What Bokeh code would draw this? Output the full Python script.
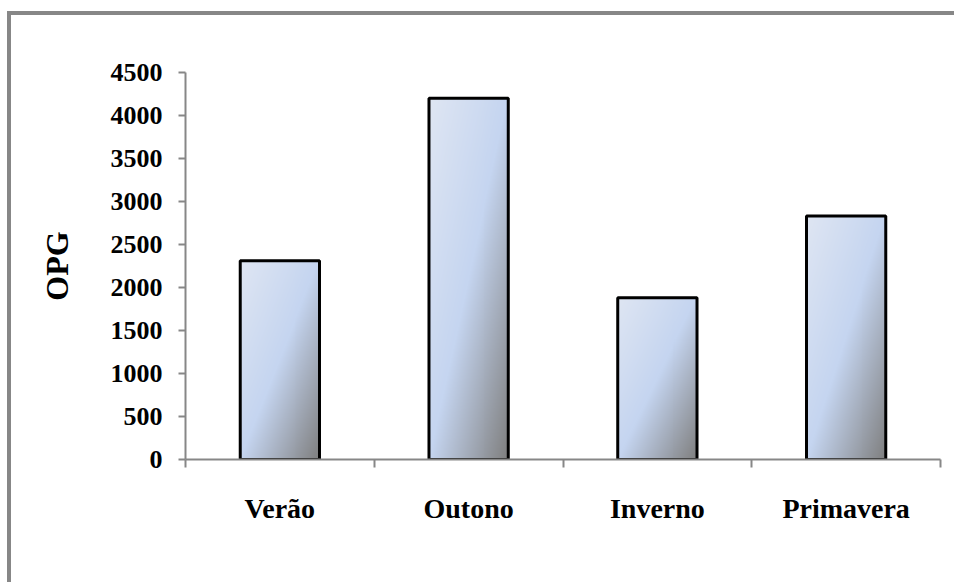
import numpy as np
from bokeh.plotting import figure
from bokeh.models import ColumnDataSource, Range1d, FixedTicker
from bokeh.embed import file_html
from bokeh.resources import INLINE

# Seasonal OPG counts
seasons = ["Verão", "Outono", "Inverno", "Primavera"]
opg = [2310, 4200, 1880, 2830]
y_ticks = [0, 500, 1000, 1500, 2000, 2500, 3000, 3500, 4000, 4500]

BAR_W = 0.42
centers = [i + 0.5 for i in range(len(seasons))]
boundaries = list(range(len(seasons) + 1))

FONT = "Liberation Serif"
AXIS_GREY = "#878787"


def gradient(h=240, w=80):
    """Diagonal fill: pale blue top-left, blue middle, grey bottom-right."""
    stops = np.array([0.0, 0.5, 1.0])
    cols = np.array([[223, 230, 243], [197, 213, 240], [128, 128, 128]], float)
    v = np.linspace(0, 1, h)[:, None]   # row 0 is the bottom of the bar
    u = np.linspace(0, 1, w)[None, :]
    t = (u + (1 - v)) / 2
    rgb = np.stack([np.interp(t, stops, cols[:, k]) for k in range(3)], axis=-1)
    img = np.empty((h, w), dtype=np.uint32)
    view = img.view(dtype=np.uint8).reshape((h, w, 4))
    view[..., 0:3] = rgb.astype(np.uint8)
    view[..., 3] = 255
    return img


grad = gradient()
src = ColumnDataSource(dict(
    image=[grad for _ in seasons],
    x=[c - BAR_W / 2 for c in centers],
    y=[0 for _ in seasons],
    dw=[BAR_W for _ in seasons],
    dh=opg,
))

p = figure(
    width=947, height=571,
    x_range=Range1d(0, len(seasons)), y_range=Range1d(0, 4500),
    output_backend="svg", toolbar_location=None,
    min_border_left=174, min_border_right=18,
    min_border_top=57, min_border_bottom=127,
)
p.styles = {
    "margin-left": "7px", "margin-top": "11px",
    "border-left": "4px solid #878787", "border-top": "4px solid #878787",
}
p.title.visible = False
p.grid.visible = False
p.outline_line_color = None
p.background_fill_color = "white"
p.border_fill_color = "white"

p.image_rgba(image="image", x="x", y="y", dw="dw", dh="dh", source=src)
p.vbar(x=centers, width=BAR_W, top=opg, bottom=0,
       fill_alpha=0, line_color="black", line_width=3)

# y axis
ya = p.yaxis[0]
ya.ticker = FixedTicker(ticks=y_ticks, minor_ticks=[])
ya.axis_line_color = AXIS_GREY
ya.axis_line_width = 2
ya.major_tick_line_color = AXIS_GREY
ya.major_tick_line_width = 2
ya.major_tick_in = 0
ya.major_tick_out = 7
ya.major_label_standoff = 16
ya.major_label_text_font = FONT
ya.major_label_text_font_style = "bold"
ya.major_label_text_font_size = "26px"
ya.major_label_text_color = "black"
ya.axis_label = "OPG"
ya.axis_label_text_font = FONT
ya.axis_label_text_font_style = "bold"
ya.axis_label_text_font_size = "32px"
ya.axis_label_text_color = "black"
ya.axis_label_standoff = 33

# x axis: category names at bar centres, ticks on the boundaries
xa = p.xaxis[0]
xa.ticker = FixedTicker(ticks=centers, minor_ticks=boundaries)
xa.major_label_overrides = {c: s for c, s in zip(centers, seasons)}
xa.axis_line_color = AXIS_GREY
xa.axis_line_width = 2
xa.major_tick_in = 0
xa.major_tick_out = 0
xa.minor_tick_line_color = AXIS_GREY
xa.minor_tick_line_width = 2
xa.minor_tick_in = 0
xa.minor_tick_out = 8
xa.major_label_standoff = 25
xa.major_label_text_font = FONT
xa.major_label_text_font_style = "bold"
xa.major_label_text_font_size = "28px"
xa.major_label_text_color = "black"

open("out.html", "w").write(file_html(p, INLINE))
